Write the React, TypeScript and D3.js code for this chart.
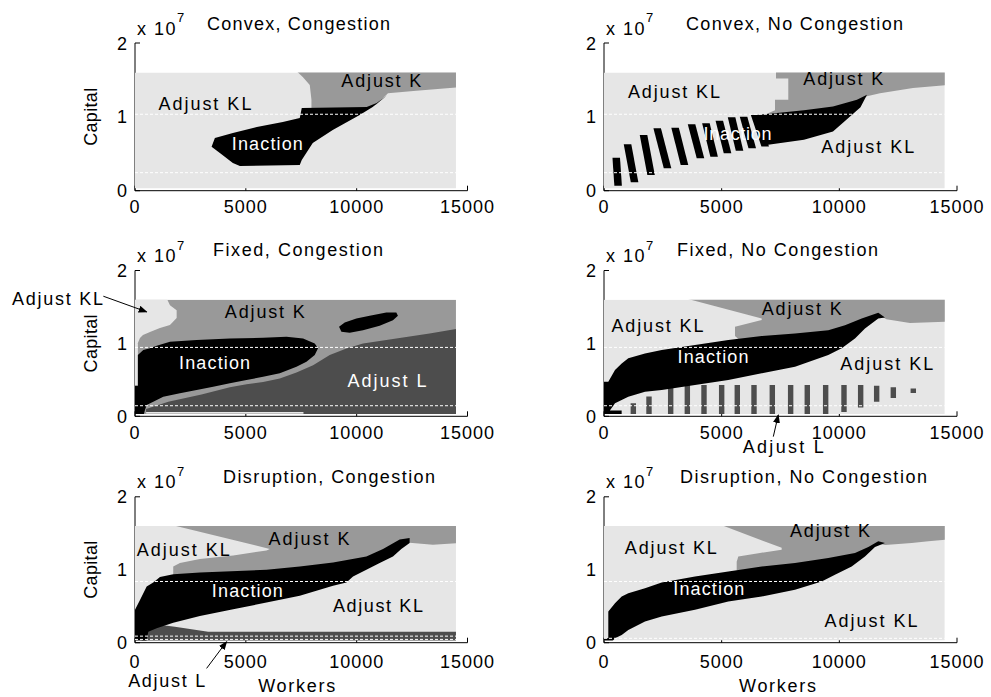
import React from "react";
import * as d3 from "d3";

type Pt = [number, number];

const FONT = "'Liberation Sans', Arial, Helvetica, sans-serif";
const REGION_COLORS: Record<string, string> = { KL: "#e6e6e6", K: "#999999", L: "#4d4d4d", I: "#000000" };

const xTicks = [0, 5000, 10000, 15000];
const yTicks = [0, 1, 2];
const X_MAX = 15000;
const Y_MAX = 2;
const IMG_W: [number, number] = [0, 14480];
const IMG_K: [number, number] = [0.03, 1.6];

// ---------- Convex, Congestion ----------
const convexCongK: Pt[] = [[7285,1.62],[14600,1.62],[14600,1.40],[12690,1.355],[11413,1.32],[10900,1.17],[10400,1.11],[8900,1.10],[7960,1.09],[7960,1.23],[7884,1.43],[7568,1.54]];
const convexCongI: Pt[] = [[3455,0.596],[3604,0.714],[4415,0.782],[5496,0.863],[6667,0.931],[7433,0.985],[7523,1.12],[10452,1.133],[10903,1.187],[11398,1.296],[10722,1.133],[10136,1.025],[8920,0.822],[8019,0.646],[7523,0.416],[7433,0.348],[4730,0.335],[4415,0.375],[3829,0.51]];
const convexCongDash = [1.035, 0.244];

// ---------- Convex, No Congestion ----------
const convexNoK: Pt[] = [[7308,1.62],[14600,1.62],[14600,1.43],[13129,1.39],[11727,1.32],[11175,1.28],[10500,1.15],[9500,1.08],[8500,1.03],[7600,1.0],[6700,0.98],[6900,1.04],[7266,1.09],[7266,1.23],[7831,1.23],[7831,1.52],[7308,1.52]];
// slanted inaction stripes: [wTop, kTop, wBottom, kBottom]
const convexNoStripes: number[][] = [
  [520,0.447,600,0.068],[1000,0.628,1300,0.113],[1680,0.754,2000,0.213],[2260,0.845,2700,0.303],
  [3020,0.853,3420,0.348],[3720,0.899,4100,0.438],[4330,0.913,4680,0.46],[4900,0.948,5250,0.506],
  [5420,0.994,5760,0.54],[5930,1.0,6300,0.574],[6400,1.025,6850,0.6],
];
const convexNoBand: Pt[] = [[6500,1.025],[8496,1.09],[9730,1.14],[10750,1.23],[11175,1.30],[10900,1.13],[10300,0.96],[9730,0.80],[8496,0.69],[6900,0.62]];
const convexNoDash = [1.035, 0.244];

// ---------- Fixed, Congestion ----------
const fixedCongKL: Pt[] = [[0,1.62],[1428,1.62],[1577,1.525],[1879,1.456],[1879,1.347],[1577,1.251],[1126,1.21],[676,1.155],[360,1.114],[225,1.073],[90,0.977],[0,0.908]];
const fixedCongKLStrip: Pt[] = [[0,0.42],[130,0.42],[130,1.0],[0,1.0]];
const fixedCongL: Pt[] = [[500,0],[14600,0],[14600,1.205],[13290,1.137],[11788,1.068],[10286,1.0],[9537,0.93],[8785,0.84],[8034,0.70],[7284,0.60],[6532,0.52],[5780,0.47],[5031,0.44],[4280,0.4],[3000,0.3],[1500,0.2],[500,0.1]];
const fixedCongKLLine: Pt[] = [[500,0.035],[7600,0.035],[7600,0.06],[500,0.06]];
const fixedCongI: Pt[] = [[130,0.42],[130,0.84],[374,0.908],[676,0.932],[978,0.968],[1577,1.022],[2780,1.045],[4280,1.068],[5780,1.077],[6834,1.09],[7582,1.068],[8109,1.0],[8258,0.932],[8109,0.84],[7735,0.748],[7284,0.679],[6532,0.589],[5780,0.542],[5031,0.497],[4280,0.452],[3527,0.405],[2780,0.36],[2027,0.315],[1275,0.268],[824,0.2],[527,0.155],[450,0.086],[374,0],[0,0],[0,0.42]];
const fixedCongI2: Pt[] = [[9205,1.227],[9461,1.288],[9987,1.342],[10587,1.378],[11338,1.425],[11788,1.425],[11862,1.378],[11637,1.319],[11038,1.241],[10286,1.182],[9686,1.145],[9312,1.159]];
const fixedCongDash = [0.945, 0.145];

// ---------- Fixed, No Congestion ----------
const fixedNoK: Pt[] = [[3442,1.62],[14600,1.62],[14600,1.30],[13000,1.28],[12000,1.33],[11800,1.37],[11655,1.36],[10240,1.2],[8116,1.1],[6701,1.07],[5779,1.04],[5566,1.1],[5566,1.227],[6701,1.32],[6701,1.34]];
const fixedNoBarW = [1246,1912,2833,3541,4249,5000,5664,6374,7152,7931,8638,9419,10198,10906,11586,12294,13143];
const fixedNoBarTop = [0.18,0.27,0.41,0.43,0.43,0.43,0.43,0.43,0.43,0.43,0.43,0.43,0.43,0.43,0.42,0.40,0.38];
const fixedNoBarBot = [0,0,0,0,0,0,0,0,0,0,0,0,0.06,0.12,0.2,0.25,0.32];
const fixedNoI: Pt[] = [[0,0.474],[183,0.474],[467,0.634],[752,0.726],[1033,0.795],[1742,0.863],[2452,0.908],[3867,0.977],[5282,1.045],[6701,1.1],[8116,1.137],[9531,1.182],[10240,1.25],[10950,1.342],[11655,1.419],[11940,1.356],[11655,1.342],[11090,1.205],[10665,1.068],[10100,0.932],[9531,0.84],[8116,0.679],[6701,0.589],[5282,0.497],[3867,0.428],[2452,0.36],[1742,0.337],[1033,0.268],[467,0.178],[250,0.08],[750,0.08],[750,0],[0,0]];
const fixedNoDash = [0.945, 0.145];

// ---------- Disruption, Congestion ----------
const disCongK: Pt[] = [[1577,1.62],[14600,1.62],[14600,1.367],[13439,1.344],[12389,1.37],[11940,1.33],[11189,1.26],[10438,1.16],[8935,1.08],[7433,1.02],[5933,0.98],[4429,0.95],[2928,0.95],[1725,0.93],[1725,1.045],[2027,1.092],[2928,1.147],[4429,1.197],[5933,1.265],[6082,1.285]];
const disCongL: Pt[] = [[300,0],[14600,0],[14600,0.15],[3300,0.15],[1800,0.22],[1000,0.25],[300,0.25]];
const disCongI: Pt[] = [[0,0.45],[225,0.587],[527,0.77],[824,0.825],[1126,0.9],[1725,0.94],[2928,0.963],[5933,1.0],[7433,1.045],[8935,1.1],[10438,1.183],[11189,1.285],[11940,1.413],[12389,1.436],[12389,1.367],[12014,1.285],[11637,1.183],[11038,1.092],[10438,1.0],[9836,0.908],[9537,0.825],[8935,0.78],[7433,0.642],[5933,0.55],[4429,0.459],[2928,0.367],[1725,0.275],[978,0.198],[600,0.15],[500,0],[0,0]];
const disCongDash = [0.839, 0.09, 0.045];

// ---------- Disruption, No Congestion ----------
const disNoK: Pt[] = [[4929,1.62],[14600,1.62],[14600,1.413],[13780,1.39],[13074,1.367],[11940,1.34],[11655,1.36],[11232,1.28],[10665,1.2],[9531,1.12],[8116,1.06],[6701,1.02],[5638,0.99],[5638,1.11],[5707,1.183],[6628,1.23],[7550,1.275],[7550,1.3]];
const disNoI: Pt[] = [[0,0],[0,0.06],[183,0.06],[183,0.427],[467,0.542],[752,0.633],[1033,0.679],[1742,0.748],[2452,0.825],[3867,0.908],[5282,0.977],[6701,1.045],[8116,1.092],[9531,1.161],[10665,1.23],[11232,1.312],[11655,1.39],[11940,1.367],[11515,1.312],[11090,1.183],[10524,1.045],[9815,0.931],[9249,0.839],[8116,0.725],[6701,0.633],[5282,0.564],[3867,0.45],[2452,0.358],[1742,0.289],[1033,0.175],[752,0.106],[467,0.06],[300,0]];
const disNoDash = [0.839, 0.06];

const rectPts = (w0: number, w1: number, kb: number, kt: number): Pt[] => [[w0, kb], [w1, kb], [w1, kt], [w0, kt]];
const STRIPE_HALF = 160;
const stripePts = (s: number[]): Pt[] => [
  [s[0] - STRIPE_HALF, s[1]], [s[0] + STRIPE_HALF, s[1]], [s[2] + STRIPE_HALF, s[3]], [s[2] - STRIPE_HALF, s[3]],
];

type Layer = { r: string; pts: Pt[] };
type Label = { t: string; w: number; k: number; white?: boolean; len: number };
type Panel = {
  title: string; col: number; row: number; titleX: number; titleY: number; titleLen: number;
  bg: string; layers: Layer[]; dashes: number[]; labels: Label[]; arrows: [Pt, Pt][];
};

const panels: Panel[] = [
  {
    title: "Convex, Congestion", col: 0, row: 0, titleX: 298.5, titleY: 30, titleLen: 183, bg: "KL",
    layers: [{ r: "K", pts: convexCongK }, { r: "I", pts: convexCongI }],
    dashes: convexCongDash,
    labels: [
      { t: "Adjust KL", w: 3153, k: 1.093, len: 93 },
      { t: "Adjust K", w: 11113, k: 1.40, len: 80 },
      { t: "Inaction", w: 5969, k: 0.551, white: true, len: 71 },
    ],
    arrows: [],
  },
  {
    title: "Convex, No Congestion", col: 1, row: 0, titleX: 794.5, titleY: 30, titleLen: 217, bg: "KL",
    layers: [
      { r: "K", pts: convexNoK },
      ...convexNoStripes.map((s) => ({ r: "I", pts: stripePts(s) })),
      { r: "I", pts: convexNoBand },
    ],
    dashes: convexNoDash,
    labels: [
      { t: "Adjust KL", w: 2974, k: 1.251, len: 92 },
      { t: "Adjust K", w: 10168, k: 1.429, len: 80 },
      { t: "Inaction", w: 5672, k: 0.687, white: true, len: 68 },
      { t: "Adjust KL", w: 11205, k: 0.506, len: 93 },
    ],
    arrows: [],
  },
  {
    title: "Fixed, Congestion", col: 0, row: 1, titleX: 298, titleY: 256.3, titleLen: 170, bg: "K",
    layers: [
      { r: "KL", pts: fixedCongKL },
      { r: "KL", pts: fixedCongKLStrip },
      { r: "L", pts: fixedCongL },
      { r: "KL", pts: fixedCongKLLine },
      { r: "I", pts: fixedCongI },
      { r: "I", pts: fixedCongI2 },
    ],
    dashes: fixedCongDash,
    labels: [
      { t: "Adjust KL", w: -3491, k: 1.525, len: 91 },
      { t: "Adjust K", w: 5857, k: 1.342, len: 80 },
      { t: "Inaction", w: 3590, k: 0.648, white: true, len: 71 },
      { t: "Adjust L", w: 11366, k: 0.405, white: true, len: 79 },
    ],
    arrows: [[[-1428, 1.647], [527, 1.433]]],
  },
  {
    title: "Fixed, No Congestion", col: 1, row: 1, titleX: 777.5, titleY: 256.3, titleLen: 201, bg: "KL",
    layers: [
      { r: "K", pts: fixedNoK },
      ...fixedNoBarW.map((w, i) => ({ r: "L", pts: rectPts(w - 115, w + 115, fixedNoBarBot[i], fixedNoBarTop[i]) })),
      { r: "I", pts: fixedNoI },
    ],
    dashes: fixedNoDash,
    labels: [
      { t: "Adjust K", w: 8400, k: 1.388, len: 80 },
      { t: "Adjust KL", w: 2273, k: 1.159, len: 92 },
      { t: "Inaction", w: 4631, k: 0.726, white: true, len: 71 },
      { t: "Adjust KL", w: 12012, k: 0.634, len: 93 },
      { t: "Adjust L", w: 7618, k: -0.503, len: 81 },
    ],
    arrows: [[[7194, -0.279], [7406, 0.018]]],
  },
  {
    title: "Disruption, Congestion", col: 0, row: 2, titleX: 329, titleY: 483.3, titleLen: 212, bg: "KL",
    layers: [{ r: "K", pts: disCongK }, { r: "L", pts: disCongL }, { r: "I", pts: disCongI }],
    dashes: disCongDash,
    labels: [
      { t: "Adjust KL", w: 2177, k: 1.193, len: 93 },
      { t: "Adjust K", w: 7847, k: 1.344, len: 81 },
      { t: "Inaction", w: 5068, k: 0.633, white: true, len: 71 },
      { t: "Adjust KL", w: 10961, k: 0.426, len: 90 },
      { t: "Adjust L", w: 1428, k: -0.605, len: 77 },
    ],
    arrows: [[[3230, -0.352], [4131, 0.014]]],
  },
  {
    title: "Disruption, No Congestion", col: 1, row: 2, titleX: 803.5, titleY: 483.3, titleLen: 247, bg: "KL",
    layers: [{ r: "K", pts: disNoK }, { r: "I", pts: disNoI }],
    dashes: disNoDash,
    labels: [
      { t: "Adjust K", w: 9603, k: 1.45, len: 80 },
      { t: "Adjust KL", w: 2839, k: 1.22, len: 92 },
      { t: "Inaction", w: 4453, k: 0.656, white: true, len: 71 },
      { t: "Adjust KL", w: 11345, k: 0.22, len: 93 },
    ],
    arrows: [],
  },
];

const COLS: [number, number][] = [[135, 467.5], [604, 957]];
const ROWS: [number, number][] = [[43, 190.7], [270.5, 416.3], [496.8, 642.7]];
const XLAB_DY = [22.6, 22.3, 25.5];
const WORKERS_X = [296.7, 777.5];

function PanelView({ p, idx }: { p: Panel; idx: number }) {
  const [x0, x1] = COLS[p.col];
  const [yT, yB] = ROWS[p.row];
  const xs = d3.scaleLinear().domain([0, X_MAX]).range([x0, x1]);
  const ys = d3.scaleLinear().domain([0, Y_MAX]).range([yB, yT]);
  const line = d3.line<Pt>().x((d) => xs(d[0])).y((d) => ys(d[1]));
  const clipId = `imgclip${idx}`;
  const ix0 = xs(IMG_W[0]);
  const ix1 = xs(IMG_W[1]);
  const iy0 = ys(IMG_K[1]);
  const iy1 = ys(IMG_K[0]);
  return (
    <g>
      <defs>
        <clipPath id={clipId}>
          <rect x={ix0} y={iy0} width={ix1 - ix0} height={iy1 - iy0} />
        </clipPath>
      </defs>
      <line x1={x0} x2={x1} y1={yB} y2={yB} stroke="#000" strokeWidth={1} />
      <line x1={x0} x2={x0} y1={yT} y2={yB} stroke="#000" strokeWidth={1} />
      {xTicks.map((t) => (
        <line key={"xt" + t} x1={xs(t)} x2={xs(t)} y1={yB} y2={yB - 5} stroke="#000" />
      ))}
      {yTicks.map((t) => (
        <line key={"yt" + t} x1={x0} x2={x0 + 5} y1={ys(t)} y2={ys(t)} stroke="#000" />
      ))}
      <g clipPath={`url(#${clipId})`}>
        <rect x={ix0} y={iy0} width={ix1 - ix0} height={iy1 - iy0} fill={REGION_COLORS[p.bg]} />
        {p.layers.map((l, i) => (
          <path key={i} d={(line(l.pts) || "") + "Z"} fill={REGION_COLORS[l.r]} />
        ))}
        {p.dashes.map((k, i) => (
          <line key={"d" + i} x1={ix0} x2={ix1} y1={ys(k)} y2={ys(k)} stroke="#ffffff" strokeWidth={1} strokeDasharray="3,2" />
        ))}
      </g>
      {p.labels.map((l, i) => (
        <text key={"l" + i} x={xs(l.w)} y={ys(l.k)} textAnchor="middle" fontSize={18} fill={l.white ? "#fff" : "#000"}
          textLength={l.len} lengthAdjust="spacing" fontFamily={FONT}>{l.t}</text>
      ))}
      {p.arrows.map((a, i) => (
        <line key={"a" + i} x1={xs(a[0][0])} y1={ys(a[0][1])} x2={xs(a[1][0])} y2={ys(a[1][1])} stroke="#000" strokeWidth={1} markerEnd="url(#arrowHead)" />
      ))}
      {xTicks.map((t) => (
        <text key={"xl" + t} x={xs(t)} y={yB + XLAB_DY[p.row]} textAnchor="middle" fontSize={18} fontFamily={FONT} letterSpacing={1}>{t}</text>
      ))}
      {yTicks.map((t) => (
        <text key={"yl" + t} x={x0 - 8} y={ys(t) + 6.5} textAnchor="end" fontSize={18} fontFamily={FONT}>{t}</text>
      ))}
      <text x={x0 + 2} y={yT - 8.5} fontSize={18} fontFamily={FONT} letterSpacing={1.5}>
        x 10<tspan dy={-12.5} fontSize={13} letterSpacing={0}>7</tspan>
      </text>
      <text x={p.titleX} y={p.titleY} textAnchor="middle" fontSize={18} fontFamily={FONT} textLength={p.titleLen} lengthAdjust="spacing">{p.title}</text>
      {p.col === 0 && (
        <text transform={`translate(96.5,${(yT + yB) / 2}) rotate(-90)`} textAnchor="middle" fontSize={18} fontFamily={FONT} textLength={58} lengthAdjust="spacing">Capital</text>
      )}
      {p.row === 2 && (
        <text x={WORKERS_X[p.col]} y={691.5} textAnchor="middle" fontSize={18} fontFamily={FONT} textLength={77} lengthAdjust="spacing">Workers</text>
      )}
    </g>
  );
}

export default function App() {
  return (
    <svg width={991} height={697} style={{ position: "absolute", left: 0, top: 0, background: "#fff" }} xmlns="http://www.w3.org/2000/svg">
      <defs>
        <marker id="arrowHead" markerUnits="userSpaceOnUse" markerWidth={9} markerHeight={7} refX={8} refY={3.5} orient="auto">
          <path d="M0,0 L9,3.5 L0,7 Z" fill="#000" />
        </marker>
      </defs>
      <rect x={0} y={0} width={991} height={697} fill="#fff" />
      {panels.map((p, i) => (
        <PanelView key={i} p={p} idx={i} />
      ))}
    </svg>
  );
}
